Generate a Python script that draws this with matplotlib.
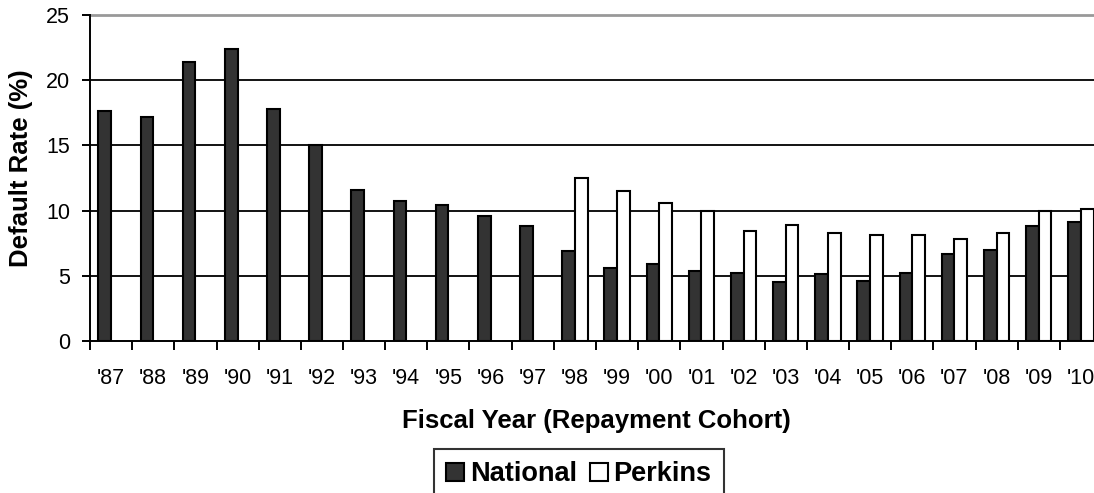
import matplotlib
matplotlib.use("Agg")
import matplotlib.pyplot as plt
import numpy as np
from matplotlib.patches import Patch

years = ["'87", "'88", "'89", "'90", "'91", "'92", "'93", "'94", "'95", "'96", "'97", "'98",
         "'99", "'00", "'01", "'02", "'03", "'04", "'05", "'06", "'07", "'08", "'09", "'10"]
national = [17.6, 17.2, 21.4, 22.4, 17.8, 15.0, 11.6, 10.7, 10.4, 9.6, 8.8, 6.9,
            5.6, 5.9, 5.4, 5.2, 4.5, 5.1, 4.6, 5.2, 6.7, 7.0, 8.8, 9.1]
perkins = [np.nan] * 11 + [12.5, 11.5, 10.6, 10.0, 8.4, 8.9, 8.3, 8.1, 8.1, 7.8, 8.3, 10.0, 10.1]
yticks = [0, 5, 10, 15, 20, 25]

plt.rcParams['font.family'] = ['Liberation Sans', 'DejaVu Sans']
fs_tick = 15.5
fs_lab = 18.5
fs_leg = 19.5

W, H = 1094, 493
fig = plt.figure(figsize=(W / 100, H / 100), dpi=100)
left, right, top, bottom = 90, 1102, 15, 341
ax = fig.add_axes([left / W, 1 - bottom / H, (right - left) / W, (bottom - top) / H])

x = np.arange(len(years))
bw = 0.3
ax.bar(x - bw / 2, national, bw, color='#333333', edgecolor='black', linewidth=1.5, zorder=3, label='National')
ax.bar(x + bw / 2, perkins, bw, color='white', edgecolor='black', linewidth=1.5, zorder=3, label='Perkins')

ax.set_xlim(-0.5, len(years) - 0.5)
ax.set_ylim(0, 25)
ax.set_yticks(yticks)
ax.set_yticklabels([str(v) for v in yticks], fontsize=fs_tick)
for v in yticks[1:-1]:
    ax.axhline(v, color='black', linewidth=1.3, zorder=1)
ax.axhline(25, color='#999999', linewidth=2.0, zorder=1, clip_on=False)

ax.set_xticks(x)
ax.set_xticklabels(years, fontsize=fs_tick)
ax.tick_params(axis='x', which='major', length=0, pad=19.5)
ax.set_xticks(np.arange(len(years) + 1) - 0.5, minor=True)
ax.tick_params(axis='x', which='minor', length=6.5, width=1.4, direction='out')
ax.tick_params(axis='y', length=6, width=1.4, direction='out', pad=8.4)

for s in ['top', 'right']:
    ax.spines[s].set_visible(False)
for s in ['left', 'bottom']:
    ax.spines[s].set_linewidth(1.4)
    ax.spines[s].set_zorder(4)

fig.text(21.5 / W, 1 - 168.5 / H, 'Default Rate (%)', fontsize=fs_lab, fontweight='bold',
         rotation=90, ha='center', va='center')
fig.text(596 / W, 1 - 421 / H, 'Fiscal Year (Repayment Cohort)', fontsize=fs_lab, fontweight='bold',
         ha='center', va='center')

handles = [Patch(facecolor='#333333', edgecolor='black', linewidth=1.5),
           Patch(facecolor='white', edgecolor='black', linewidth=1.5)]
leg = fig.legend(handles, ['National', 'Perkins'], loc='upper center', bbox_to_anchor=(579 / W, 1 - 449 / H),
                 ncol=2, frameon=True, fancybox=False, edgecolor='black',
                 prop={'size': fs_leg, 'weight': 'bold'}, handlelength=0.66, handleheight=0.66,
                 handletextpad=0.2, columnspacing=0.5, borderpad=0.45, borderaxespad=0)
leg.get_frame().set_linewidth(1.5)

fig.savefig('out.png', dpi=100)
